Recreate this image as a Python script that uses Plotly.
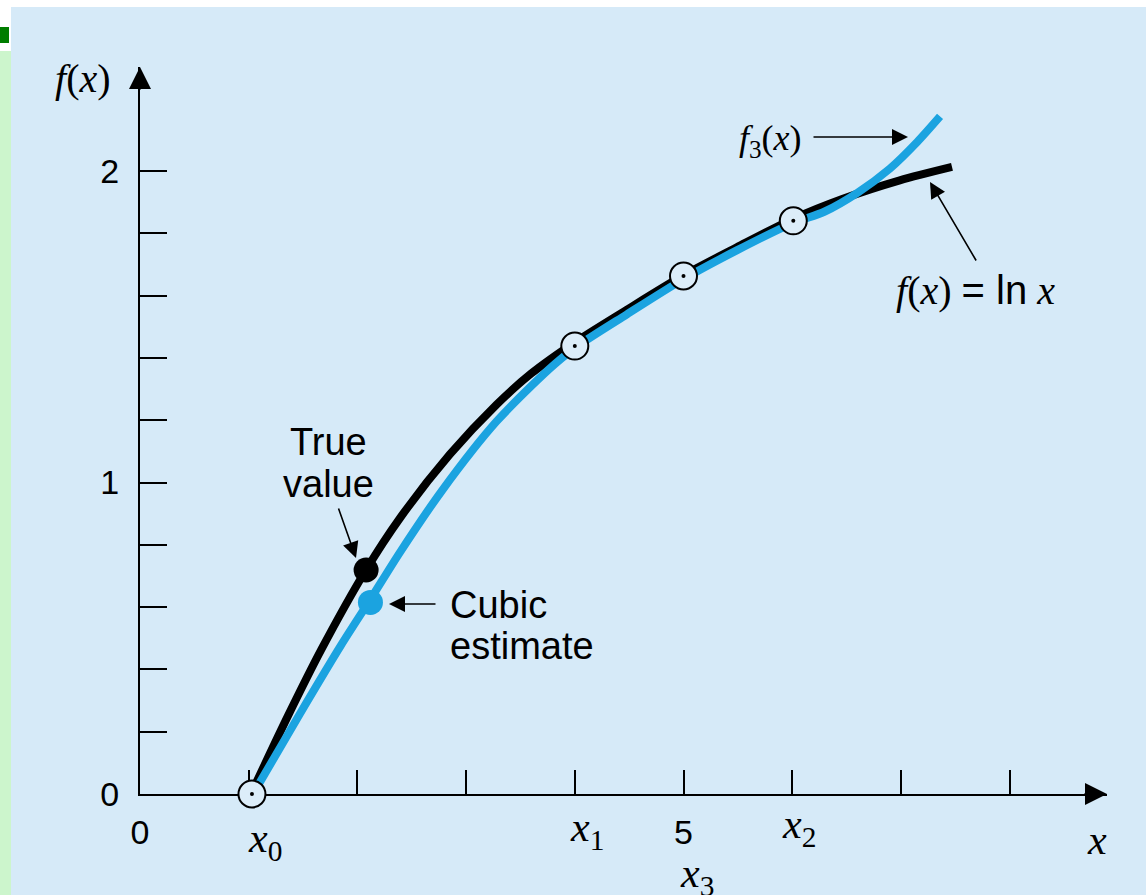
import plotly.graph_objects as go

# ---------------- data ----------------
true_x = [1.02, 1.36, 1.67, 2.08, 2.39, 2.85, 3.28, 3.6, 4.0, 4.48, 5.0, 5.49, 6.0, 6.46, 6.99, 7.47]
true_y = [0.0, 0.25, 0.465, 0.72, 0.885, 1.09, 1.25, 1.35, 1.45, 1.555, 1.665, 1.755, 1.845, 1.91, 1.97, 2.013]

cubic_x = [1.04, 1.47, 1.85, 2.12, 2.39, 2.78, 3.28, 3.77, 4.0, 4.48, 5.0, 5.49, 6.0, 6.3, 6.6, 6.9, 7.15, 7.36]
cubic_y = [0.0, 0.257, 0.478, 0.625, 0.775, 0.975, 1.196, 1.366, 1.432, 1.54, 1.653, 1.745, 1.832, 1.87, 1.93, 2.008, 2.093, 2.175]

node_x = [1.03, 4.0, 5.0, 6.01]
node_y = [0.0, 1.438, 1.663, 1.84]
node_labels = ["<i>x</i><sub>0</sub>", "<i>x</i><sub>1</sub>", "<i>x</i><sub>3</sub>", "<i>x</i><sub>2</sub>"]

true_pt_x = [2.08]
true_pt_y = [0.719]
est_pt_x = [2.12]
est_pt_y = [0.615]

ytick_vals = [0, 1, 2]
ytick_text = ["0", "1", "2"]
yminor_vals = [0.2, 0.4, 0.6, 0.8, 1.2, 1.4, 1.6, 1.8]
xtick_vals = [0, 5]
xtick_text = ["0", "5"]
xminor_vals = [1, 2, 3, 4, 6, 7, 8]

# ---------------- styling / geometry ----------------
W, H = 1146, 895
ML, MR, MT, MB = 140, 39, 67, 101
PW, PH = W - ML - MR, H - MT - MB
XPX = 108.7   # pixels per x unit
YPX = 311.5   # pixels per y unit
XR = [0, PW / XPX]
YR = [0, PH / YPX]

BG = "#d6eaf8"
BLUE = "#1ba3e0"
SANS = "Liberation Sans, Arial, sans-serif"
SERIF = "Liberation Serif, Times New Roman, serif"


def pxp(px):
    return (px - ML) / PW


def pyp(py):
    return (H - MB - py) / PH


fig = go.Figure()

fig.add_trace(go.Scatter(x=true_x, y=true_y, mode="lines",
                         line=dict(color="black", width=8, shape="spline", smoothing=0.8),
                         cliponaxis=False, hoverinfo="skip", showlegend=False))
fig.add_trace(go.Scatter(x=cubic_x, y=cubic_y, mode="lines",
                         line=dict(color=BLUE, width=8, shape="spline", smoothing=0.8),
                         cliponaxis=False, hoverinfo="skip", showlegend=False))
fig.add_trace(go.Scatter(x=est_pt_x, y=est_pt_y, mode="markers",
                         marker=dict(color=BLUE, size=25, line=dict(width=0)),
                         cliponaxis=False, hoverinfo="skip", showlegend=False))
fig.add_trace(go.Scatter(x=true_pt_x, y=true_pt_y, mode="markers",
                         marker=dict(color="black", size=25, line=dict(width=0)),
                         cliponaxis=False, hoverinfo="skip", showlegend=False))
fig.add_trace(go.Scatter(x=node_x, y=node_y, mode="markers",
                         marker=dict(symbol="circle", color="#dcedf9", size=27,
                                     line=dict(color="black", width=2)),
                         cliponaxis=False, hoverinfo="skip", showlegend=False))
fig.add_trace(go.Scatter(x=node_x, y=node_y, mode="markers",
                         marker=dict(symbol="circle", color="black", size=4),
                         cliponaxis=False, hoverinfo="skip", showlegend=False))

ann = []
# axis arrowheads
ann.append(dict(x=XR[1], y=0, xref="x", yref="y", ax=-24, ay=0, text="",
                showarrow=True, arrowhead=2, arrowsize=2.2, arrowwidth=2, arrowcolor="black"))
ann.append(dict(x=0, y=YR[1], xref="x", yref="y", ax=0, ay=24, text="",
                showarrow=True, arrowhead=2, arrowsize=2.2, arrowwidth=2, arrowcolor="black"))

# node labels under the x axis
lab_shift = [(-6, -47), (-7, -36), (-6, -82), (-13, -33)]
for xv, lab, (xs, ys) in zip(node_x, node_labels, lab_shift):
    ann.append(dict(x=xv, y=0, xref="x", yref="paper", xshift=xs, yshift=ys,
                    text=lab, showarrow=False, xanchor="left", yanchor="middle",
                    font=dict(family=SERIF, size=42, color="black")))


def text_at(px, py, txt, family, size, xanchor="center", align="center"):
    ann.append(dict(x=pxp(px), y=pyp(py), xref="paper", yref="paper", text=txt,
                    showarrow=False, xanchor=xanchor, yanchor="middle", align=align,
                    font=dict(family=family, size=size, color="black")))


# axis titles
text_at(83, 79, "<i>f</i>(<i>x</i>)", SERIF, 40)
text_at(1097, 840, "<i>x</i>", SERIF, 42)

# callout texts
text_at(328, 442, "True", SANS, 38)
text_at(328, 484, "value", SANS, 38)
text_at(448, 605, "Cubic", SANS, 38, xanchor="left")
text_at(448, 646, "estimate", SANS, 38, xanchor="left")
text_at(770, 140, "<i>f</i><sub>3</sub>(<i>x</i>)", SERIF, 36)
text_at(975, 290, "<i>f</i>(<i>x</i>) <span style=\"font-family:Liberation Sans\">= ln</span> <i>x</i>",
        SERIF, 40)

# pointer arrows (head px, tail px)
arrows = [((356, 558), (338, 507)),
          ((389, 604), (437, 604)),
          ((908, 137), (812, 137)),
          ((930, 182), (977, 262))]
for (hx, hy), (tx, ty) in arrows:
    ann.append(dict(x=pxp(hx), y=pyp(hy), xref="paper", yref="paper",
                    ax=tx - hx, ay=ty - hy, text="", showarrow=True, arrowhead=2,
                    arrowsize=2.0, arrowwidth=1.6, arrowcolor="black"))

shapes = [
    dict(type="rect", xref="paper", yref="paper", x0=pxp(0), x1=pxp(W), y0=pyp(7), y1=pyp(0),
         fillcolor="white", line=dict(width=0), layer="below"),
    dict(type="rect", xref="paper", yref="paper", x0=pxp(0), x1=pxp(11), y0=pyp(51), y1=pyp(0),
         fillcolor="white", line=dict(width=0), layer="below"),
    dict(type="rect", xref="paper", yref="paper", x0=pxp(0), x1=pxp(11), y0=pyp(H), y1=pyp(51),
         fillcolor="#ccf5cc", line=dict(width=0), layer="below"),
    dict(type="rect", xref="paper", yref="paper", x0=pxp(0), x1=pxp(9), y0=pyp(43), y1=pyp(27),
         fillcolor="#007d00", line=dict(width=0), layer="below"),
]

fig.update_layout(
    width=W, height=H,
    margin=dict(l=ML, r=MR, t=MT, b=MB, pad=0),
    paper_bgcolor=BG, plot_bgcolor=BG,
    showlegend=False,
    annotations=ann,
    shapes=shapes,
    xaxis=dict(range=XR, showgrid=False, zeroline=False, showline=True, linecolor="black",
               linewidth=2, ticks="inside", ticklen=24, tickwidth=2, tickcolor="black",
               tickvals=xtick_vals, ticktext=xtick_text, ticklabelstandoff=7,
               minor=dict(tickvals=xminor_vals, ticks="inside", ticklen=24, tickwidth=2,
                          tickcolor="black", showgrid=False),
               layer="below traces",
               tickfont=dict(family=SANS, size=34, color="black"), fixedrange=True),
    yaxis=dict(range=YR, showgrid=False, zeroline=False, showline=True, linecolor="black",
               linewidth=2, ticks="inside", ticklen=27, tickwidth=2, tickcolor="black",
               tickvals=ytick_vals, ticktext=ytick_text, ticklabelstandoff=12,
               minor=dict(tickvals=yminor_vals, ticks="inside", ticklen=27, tickwidth=2,
                          tickcolor="black", showgrid=False),
               layer="below traces",
               tickfont=dict(family=SANS, size=34, color="black"), fixedrange=True),
)

fig.write_html("out.html", config={"displayModeBar": False},
               post_script="document.body.style.margin='0';")
